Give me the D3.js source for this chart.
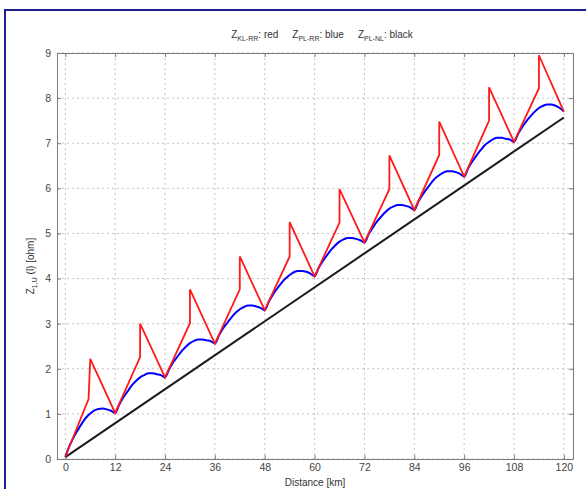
<!DOCTYPE html>
<html>
<head>
<meta charset="utf-8">
<script src="https://cdn.jsdelivr.net/npm/d3@7"></script>
<style>
  body { margin: 0; background: #fff; }
  text { font-family: Arial, "Liberation Sans", sans-serif; }
</style>
</head>
<body>
<div id="chart"></div>
<script>
// Tick labels
const xTicks = [0, 12, 24, 36, 48, 60, 72, 84, 96, 108, 120];
const yTicks = [0, 1, 2, 3, 4, 5, 6, 7, 8, 9];

// Red series (Z KL-RR): sawtooth with a jump in the middle of each 12 km section
const redKm = [0, 5.6, 6, 12, 18, 18, 24, 30, 30, 36, 42, 42, 48, 54, 54, 60,
               66, 66, 72, 78, 78, 84, 90, 90, 96, 102, 102, 108, 114, 114, 120];
const redVal = [0.05, 1.33, 2.22, 1.02, 2.26, 3.0, 1.81, 3.01, 3.76, 2.56, 3.76, 4.49,
                3.3, 4.49, 5.25, 4.05, 5.24, 5.98, 4.8, 5.98, 6.73, 5.52, 6.74, 7.48,
                6.26, 7.5, 8.24, 7.03, 8.22, 8.95, 7.7];

// Blue series (Z PL-RR): one value per km, 0..120
const blueVal = [
  0.05, 0.29, 0.48, 0.64, 0.79, 0.92, 1.01, 1.08, 1.11, 1.12, 1.10, 1.07,
  1.02, 1.21, 1.37, 1.50, 1.63, 1.73, 1.81, 1.86, 1.90, 1.90, 1.88, 1.86,
  1.81, 1.99, 2.15, 2.27, 2.39, 2.49, 2.57, 2.62, 2.65, 2.65, 2.63, 2.61,
  2.56, 2.74, 2.90, 3.02, 3.14, 3.24, 3.32, 3.37, 3.40, 3.40, 3.38, 3.35,
  3.30, 3.49, 3.65, 3.78, 3.90, 4.00, 4.08, 4.14, 4.17, 4.17, 4.15, 4.11,
  4.05, 4.24, 4.39, 4.52, 4.64, 4.74, 4.82, 4.87, 4.90, 4.90, 4.88, 4.85,
  4.80, 4.98, 5.13, 5.26, 5.37, 5.47, 5.55, 5.60, 5.63, 5.63, 5.61, 5.58,
  5.52, 5.71, 5.86, 5.99, 6.11, 6.22, 6.29, 6.35, 6.38, 6.38, 6.36, 6.32,
  6.26, 6.45, 6.60, 6.73, 6.85, 6.96, 7.03, 7.09, 7.12, 7.12, 7.10, 7.08,
  7.03, 7.21, 7.36, 7.49, 7.60, 7.70, 7.78, 7.83, 7.86, 7.86, 7.83, 7.78,
  7.70
];

// Black series (Z PL-NL): straight line
const blackKm = [0, 120];
const blackVal = [0.04, 7.57];

const W = 586, H = 489;
const plot = { left: 57, right: 573, top: 53, bottom: 459 };

const svg = d3.select("#chart")
  .append("svg")
  .attr("width", W)
  .attr("height", H);

// outer frame
svg.append("rect")
  .attr("x", 5).attr("y", 10)
  .attr("width", 600).attr("height", 500)
  .attr("fill", "#fff")
  .attr("stroke", "#1e1e8c")
  .attr("stroke-width", 2);

const x = d3.scaleLinear().domain([-2, 122.2]).range([plot.left, plot.right]);
const y = d3.scaleLinear().domain([0, 9]).range([plot.bottom, plot.top]);

// grid lines
svg.append("g")
  .selectAll("line")
  .data(xTicks)
  .enter().append("line")
  .attr("x1", d => x(d)).attr("x2", d => x(d))
  .attr("y1", plot.top).attr("y2", plot.bottom)
  .attr("stroke", "#c4c4c4")
  .attr("stroke-dasharray", "2,3");

svg.append("g")
  .selectAll("line")
  .data(yTicks)
  .enter().append("line")
  .attr("x1", plot.left).attr("x2", plot.right)
  .attr("y1", d => y(d)).attr("y2", d => y(d))
  .attr("stroke", "#c4c4c4")
  .attr("stroke-dasharray", "2,3");

// axes (ticks inward, box on all sides)
const tickStyle = g => {
  g.select(".domain").attr("stroke", "#7a7a7a");
  g.selectAll(".tick line").attr("stroke", "#7a7a7a");
  g.selectAll("text").attr("fill", "#444").style("font-size", "10.5px");
};

svg.append("g")
  .attr("transform", `translate(0,${plot.bottom})`)
  .call(d3.axisBottom(x).tickValues(xTicks).tickSizeInner(-4).tickSizeOuter(0).tickPadding(5))
  .call(tickStyle);

svg.append("g")
  .attr("transform", `translate(0,${plot.top})`)
  .call(d3.axisTop(x).tickValues(xTicks).tickSizeInner(-4).tickSizeOuter(0).tickFormat(""))
  .call(tickStyle);

svg.append("g")
  .attr("transform", `translate(${plot.left},0)`)
  .call(d3.axisLeft(y).tickValues(yTicks).tickSizeInner(-4).tickSizeOuter(0).tickPadding(6))
  .call(tickStyle);

svg.append("g")
  .attr("transform", `translate(${plot.right},0)`)
  .call(d3.axisRight(y).tickValues(yTicks).tickSizeInner(-4).tickSizeOuter(0).tickFormat(""))
  .call(tickStyle);

// series
const black = blackKm.map((k, i) => [k, blackVal[i]]);
const blue = blueVal.map((v, i) => [i, v]);
const red = redKm.map((k, i) => [k, redVal[i]]);

svg.append("path")
  .datum(black)
  .attr("d", d3.line().x(d => x(d[0])).y(d => y(d[1])))
  .attr("fill", "none")
  .attr("stroke", "#1a1a1a")
  .attr("stroke-width", 2);

svg.append("path")
  .datum(blue)
  .attr("d", d3.line().x(d => x(d[0])).y(d => y(d[1])).curve(d3.curveMonotoneX))
  .attr("fill", "none")
  .attr("stroke", "#0000ff")
  .attr("stroke-width", 2);

svg.append("path")
  .datum(red)
  .attr("d", d3.line().x(d => x(d[0])).y(d => y(d[1])))
  .attr("fill", "none")
  .attr("stroke", "#ff1a1a")
  .attr("stroke-width", 1.8);

// title with subscripts
const title = svg.append("text")
  .attr("x", 322)
  .attr("y", 38)
  .attr("text-anchor", "middle")
  .attr("fill", "#333")
  .style("font-size", "10px");

[["KL-RR", "red"], ["PL-RR", "blue"], ["PL-NL", "black"]].forEach((p, i) => {
  title.append("tspan").attr("dx", i ? 14 : 0).text("Z");
  title.append("tspan").attr("dy", 3).style("font-size", "7px").text(p[0]);
  title.append("tspan").attr("dy", -3).text(": " + p[1]);
});

// x label
svg.append("text")
  .attr("x", 315)
  .attr("y", 486)
  .attr("text-anchor", "middle")
  .attr("fill", "#333")
  .style("font-size", "10px")
  .text("Distance [km]");

// y label
const yl = svg.append("text")
  .attr("transform", "translate(34,266) rotate(-90)")
  .attr("text-anchor", "middle")
  .attr("fill", "#333")
  .style("font-size", "10px");
yl.append("tspan").text("Z");
yl.append("tspan").attr("dy", 3).style("font-size", "7px").text("1,U");
yl.append("tspan").attr("dy", -3).text(" (l) [ohm]");
</script>
</body>
</html>
